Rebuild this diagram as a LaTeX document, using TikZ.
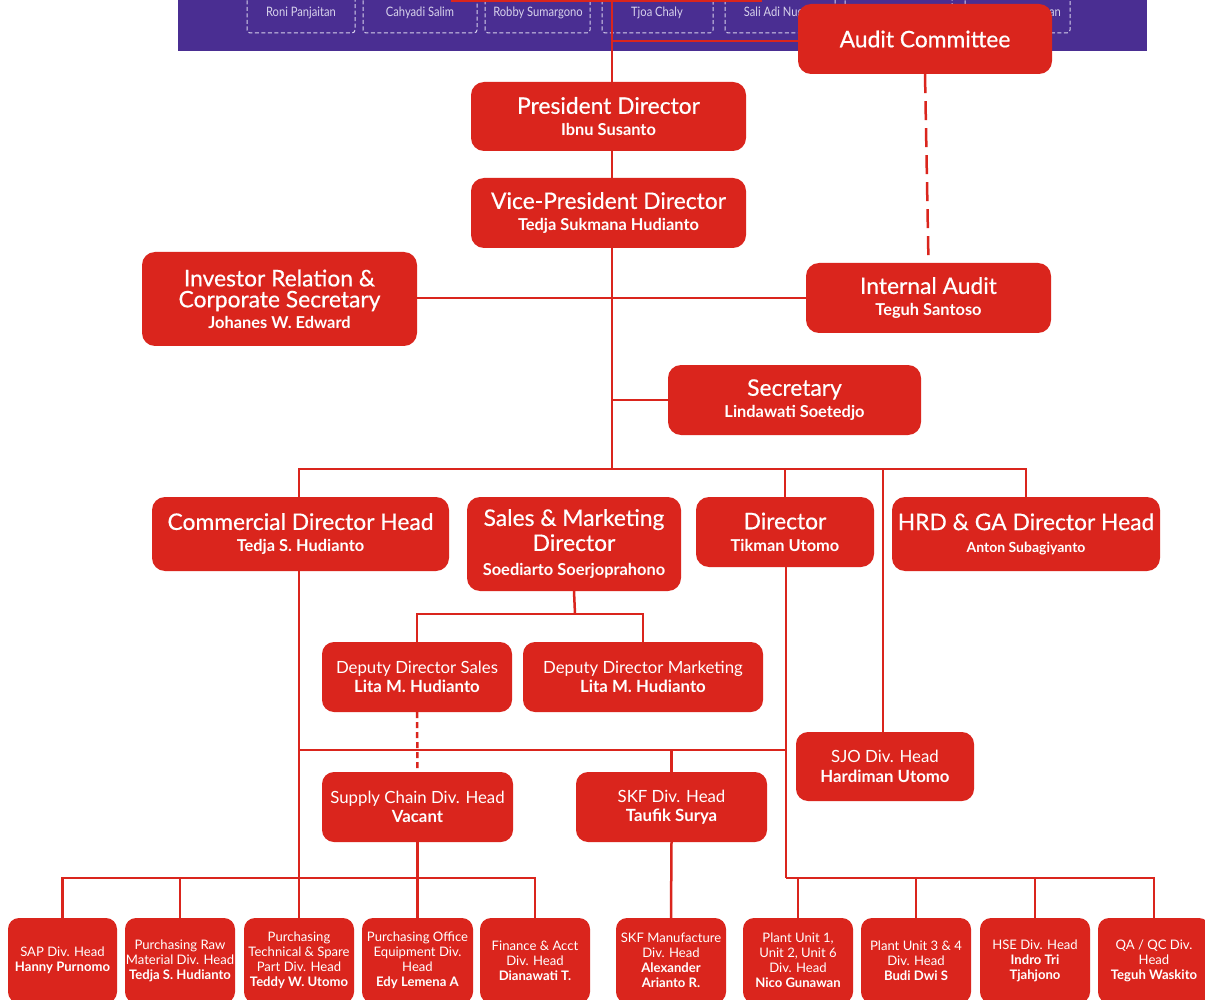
\documentclass[tikz,border=0pt]{standalone}
\usepackage{fontspec}
\setmainfont{Lato}
\newfontfamily\latomed{Lato}[FakeBold=0.5]
\usetikzlibrary{calc}
\definecolor{cred}{RGB}{218,37,29}
\definecolor{cband}{RGB}{74,46,146}
\definecolor{cbandtxt}{RGB}{215,210,235}
\pgfdeclarelayer{bg}
\pgfsetlayers{bg,main}
\newcommand{\obox}[6]{\node[box,#6,minimum width={(#4-#2)*1pt},minimum height={(#5-#3)*1pt}] (#1) at ({(#2+#4)/2},{(#3+#5)/2})}
\newcommand{\nmb}[2]{{\normalfont\fontsize{#1}{#1}\selectfont\bfseries #2}}
\newcommand{\bandname}[3]{\node[bandtxt] (#1) at (#2,13) {\scalebox{0.86}[1]{#3}};}
\begin{document}
\begin{tikzpicture}[x=1pt,y=-1pt,
  box/.style={fill=cred, text=white, rounded corners=13pt, inner sep=0pt, align=center},
  big/.style={font=\latomed\fontsize{22.8}{22}\selectfont},
  mid/.style={font=\fontsize{16.8}{19.5}\selectfont, rounded corners=12pt},
  small/.style={font=\fontsize{13.1}{15}\selectfont, rounded corners=11pt},
  ln/.style={draw=cred, line width=2.5pt},
  dashln/.style={draw=cred, line width=2.5pt, dash pattern=on 19pt off 8pt},
  dotln/.style={draw=cred, line width=2.5pt, dash pattern=on 6pt off 4pt},
  bandbox/.style={draw=cbandtxt, line width=1pt, dash pattern=on 4pt off 2.5pt, rounded corners=3pt},
  bandtxt/.style={text=cbandtxt, font=\fontsize{13}{14}\selectfont, inner sep=0pt}]
\useasboundingbox (0,0) rectangle (1205,1000);

% ---------------- boxes ----------------
\obox{audit}{798}{4}{1052}{74}{big}{Audit Committee};
\obox{pres}{471}{82}{746}{151}{big}{President Director\\\nmb{16.4}{Ibnu Susanto}};
\obox{vp}{471}{178}{746}{248}{big}{Vice-President Director\\\nmb{16.4}{Tedja Sukmana Hudianto}};
\obox{inv}{142}{252}{417}{346}{big,font=\latomed\fontsize{22.8}{21}\selectfont}{Investor Relation \&\\Corporate Secretary\\\nmb{16.4}{Johanes W. Edward}};
\obox{ia}{806}{263}{1051}{333}{big}{Internal Audit\\\nmb{16.4}{Teguh Santoso}};
\obox{sec}{668}{365}{921}{435}{big}{Secretary\\\nmb{16.4}{Lindawati Soetedjo}};
\obox{comm}{152}{497}{449}{571}{big}{Commercial Director Head\\\nmb{16.4}{Tedja S. Hudianto}};
\obox{sales}{467}{497}{681}{591}{big,font=\latomed\fontsize{22.8}{25}\selectfont}{Sales \& Marketing\\Director\\\nmb{16.4}{Soediarto Soerjoprahono}};
\obox{dir}{696}{497}{874}{567}{big}{Director\\\nmb{16.4}{Tikman Utomo}};
\obox{hrd}{892}{497}{1160}{571}{big}{HRD \& GA Director Head\\\nmb{14}{Anton Subagiyanto}};
\obox{dsales}{322}{642}{512}{712}{mid}{Deputy Director Sales\\\textbf{Lita M. Hudianto}};
\obox{dmkt}{523}{642}{763}{712}{mid}{Deputy Director Marketing\\\textbf{Lita M. Hudianto}};
\obox{sjo}{796}{732}{974}{801}{mid}{SJO Div. Head\\\textbf{Hardiman Utomo}};
\obox{supply}{322}{772}{513}{842}{mid}{Supply Chain Div. Head\\\textbf{Vacant}};
\obox{skf}{576}{772}{767}{842}{mid}{SKF Div. Head\\\textbf{Taufik Surya}};

\obox{b1}{8}{918}{117}{1003}{small}{SAP Div. Head\\\textbf{Hanny Purnomo}};
\obox{b2}{125}{918}{235}{1003}{small}{Purchasing Raw\\Material Div. Head\\\textbf{Tedja S. Hudianto}};
\obox{b3}{244}{918}{354}{1003}{small}{Purchasing\\Technical \& Spare\\Part Div. Head\\\textbf{Teddy W. Utomo}};
\obox{b4}{362}{918}{473}{1003}{small}{Purchasing Office\\Equipment Div.\\Head\\\textbf{Edy Lemena A}};
\obox{b5}{480}{918}{590}{1003}{small}{Finance \& Acct\\Div. Head\\\textbf{Dianawati T.}};
\obox{b6}{616}{918}{726}{1003}{small}{SKF Manufacture\\Div. Head\\\textbf{Alexander}\\\textbf{Arianto R.}};
\obox{b7}{743}{918}{853}{1003}{small}{Plant Unit 1,\\Unit 2, Unit 6\\Div. Head\\\textbf{Nico Gunawan}};
\obox{b8}{861}{918}{971}{1003}{small}{Plant Unit 3 \& 4\\Div. Head\\\textbf{Budi Dwi S}};
\obox{b9}{980}{918}{1090}{1003}{small}{HSE Div. Head\\\textbf{Indro Tri}\\\textbf{Tjahjono}};
\obox{b10}{1098}{918}{1210}{1003}{small}{QA / QC Div.\\Head\\\textbf{Teguh Waskito}};

% ---------------- coordinates ----------------
\coordinate (topv) at (612,0);
\coordinate (acj) at (612,41);
\coordinate (tl) at (451,1);
\coordinate (tr) at (762,1);
\coordinate (bus) at (612,469);
\coordinate (secj) at (612,400);
\coordinate (dj) at (575,614);
\coordinate (midj) at (612,750);
\coordinate (lowbus) at (612,878);

\begin{pgfonlayer}{bg}
\fill[white] (0,0) rectangle (1205,1000);
% band
\fill[cband] (178,0) rectangle (1147,51);
\foreach \a/\b in {247/355,363/477,485/590,602/713,725/835,845/952,965/1070}{
  \draw[bandbox] (\a,-6) -- (\a,33) -- (\b,33) -- (\b,-6);
}
\bandname{n1}{301}{Roni Panjaitan}
\bandname{n2}{420}{Cahyadi Salim}
\bandname{n3}{538}{Robby Sumargono}
\bandname{n4}{657}{Tjoa Chaly}
\bandname{n5}{785}{Sali Adi Nugroho}
\node[bandtxt, anchor=east] (n7) at (1061,13) {\scalebox{0.86}[1]{an}};

% connectors
\draw[ln] (tl) -- (tr);
\draw[ln] (topv) -- (topv |- pres.north);
\draw[ln] (acj) -- (acj -| audit.west);
\draw[ln] (topv |- pres.south) -- (topv |- vp.north);
\draw[ln] (topv |- vp.south) -- (bus);
\draw[ln] (inv.east |- ia.west) -- (ia.west);
\draw[ln] (secj) -- (secj -| sec.west);
\draw[dashln] (audit.south) -- (ia.north);
% director bus
\draw[ln] (comm.north -| 299,0) |- (bus -| hrd.north) -- (hrd.north);
\draw[ln] (bus -| dir.north) -- (dir.north);
\draw[ln] (bus -| 883,0) -- (sjo.north -| 883,0);
% sales to deputies
\draw[ln] (sales.south) -- (dj);
\draw[ln] (dsales.north) |- (dj) -| (dmkt.north);
\draw[dotln] (dsales.south) -- (supply.north);
% commercial and director verticals
\draw[ln] (comm.south -| 299,0) -- (lowbus -| 299,0);
\draw[ln] (dir.south -| 786,0) -- (lowbus -| 786,0);
\draw[ln] (midj -| 299,0) -- (midj -| 786,0);
\draw[ln] (midj -| skf.north) -- (skf.north);
\draw[ln] (supply.south) -- (lowbus -| supply.south);
\draw[ln] (skf.south) -- (b6.north);
% lower buses
\draw[ln] (b1.north) |- (lowbus -| b5.north) -- (b5.north);
\foreach \n in {b2,b3,b4}{\draw[ln] (\n.north) -- (lowbus -| \n.north);}
\draw[ln] (lowbus -| 786,0) -| (b10.north);
\foreach \n in {b7,b8,b9}{\draw[ln] (\n.north) -- (lowbus -| \n.north);}
\end{pgfonlayer}
\end{tikzpicture}
\end{document}
